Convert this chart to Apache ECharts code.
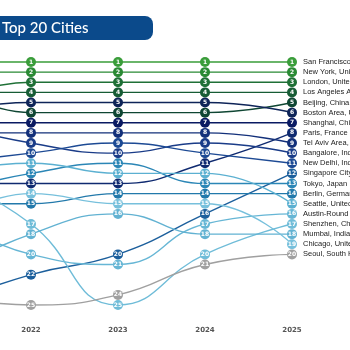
<!DOCTYPE html>
<html>
<head>
<meta charset="utf-8">
<script src="https://cdn.jsdelivr.net/npm/echarts@6/dist/echarts.min.js"></script>
<style>
  html, body { margin: 0; padding: 0; background: #fff; }
  #main { width: 350px; height: 350px; }
</style>
</head>
<body>
<div id="main"></div>
<script>
const years = ['2021', '2022', '2023', '2024', '2025'];
const cities = [
    'San Francisco Bay Area, United States', 'New York, United States', 'London, United Kingdom',
    'Los Angeles Area, United States', 'Beijing, China', 'Boston Area, United States',
    'Shanghai, China', 'Paris, France', 'Tel Aviv Area, Israel', 'Bangalore, India',
    'New Delhi, India', 'Singapore City, Singapore', 'Tokyo, Japan', 'Berlin, Germany',
    'Seattle, United States', 'Austin-Round Rock, United States', 'Shenzhen, China',
    'Mumbai, India', 'Chicago, United States', 'Seoul, South Korea'
];
// rank of each city per year (same order as cities)
const rank2021 = [1, 2, 5, 4, 3, 6, 7, 13, 8, 7, 11, 25, 14, 15, 12, 16, 12, 22, 17, 24];
const rank2022 = [1, 2, 3, 4, 6, 5, 7, 13, 8, 9, 10, 22, 12, 15, 11, 20, 17, 18, 14, 25];
const rank2023 = [1, 2, 3, 4, 6, 5, 7, 13, 8, 10, 9, 20, 11, 14, 12, 21, 25, 16, 15, 24];
const rank2024 = [1, 2, 3, 4, 6, 5, 7, 11, 8, 9, 10, 16, 13, 14, 12, 17, 20, 18, 15, 21];
const rank2025 = [1, 2, 3, 4, 5, 6, 7, 8, 9, 10, 11, 12, 13, 14, 15, 16, 17, 18, 19, 20];

const colors = [
    '#3a9d3a', '#2a8a34', '#1f7036', '#175c35', '#0f4633', '#0e2458', '#0a1a62',
    '#0f2a70', '#13307a', '#1a3c88', '#1d4a94', '#1c5f9c', '#2b86b6', '#2279ab',
    '#5bb0d1', '#66b6d5', '#6fbcd8', '#62b2d2', '#77c0dc', '#a0a0a0'
];

var myChart = echarts.init(document.getElementById('main'));

var series = cities.map(function (name, i) {
    return {
        name: name,
        type: 'line',
        data: [rank2021[i], rank2022[i], rank2023[i], rank2024[i], rank2025[i]],
        smooth: true,
        clip: false,
        symbol: 'circle',
        symbolSize: 10,
        color: colors[i],
        lineStyle: { width: 1.4, color: colors[i] },
        itemStyle: { color: colors[i] },
        label: {
            show: true,
            position: 'inside',
            color: '#fff',
            fontSize: 6,
            fontWeight: 'bold',
            fontFamily: 'DejaVu Sans',
            formatter: function (p) { return p.value; }
        },
        endLabel: {
            show: true,
            formatter: '{a}',
            distance: 11,
            color: '#222',
            fontSize: 7.5,
            fontFamily: 'Liberation Sans'
        },
        emphasis: { disabled: true }
    };
});

var option = {
    animation: false,
    grid: {
        left: -56,
        right: 58,
        top: 62,
        bottom: 45,
        containLabel: false,
        outerBoundsMode: 'none'
    },
    xAxis: {
        type: 'category',
        data: years,
        boundaryGap: false,
        axisLine: { show: false },
        axisTick: { show: false },
        splitLine: { show: false },
        axisLabel: {
            margin: 22,
            color: '#555',
            fontSize: 7,
            fontWeight: 'bold',
            fontFamily: 'DejaVu Sans'
        }
    },
    yAxis: {
        type: 'value',
        inverse: true,
        min: 1,
        max: 25,
        show: false
    },
    graphic: [
        {
            type: 'rect',
            shape: { x: -10, y: 16, width: 163, height: 24, r: 8 },
            style: { fill: '#0b4a8b' }
        },
        {
            type: 'text',
            x: 2,
            y: 28,
            style: {
                text: 'Top 20 Cities',
                fill: '#fff',
                fontSize: 15,
                fontWeight: 500,
                fontFamily: 'Lato',
                verticalAlign: 'middle'
            }
        }
    ],
    series: series
};
myChart.setOption(option);
</script>
</body>
</html>
